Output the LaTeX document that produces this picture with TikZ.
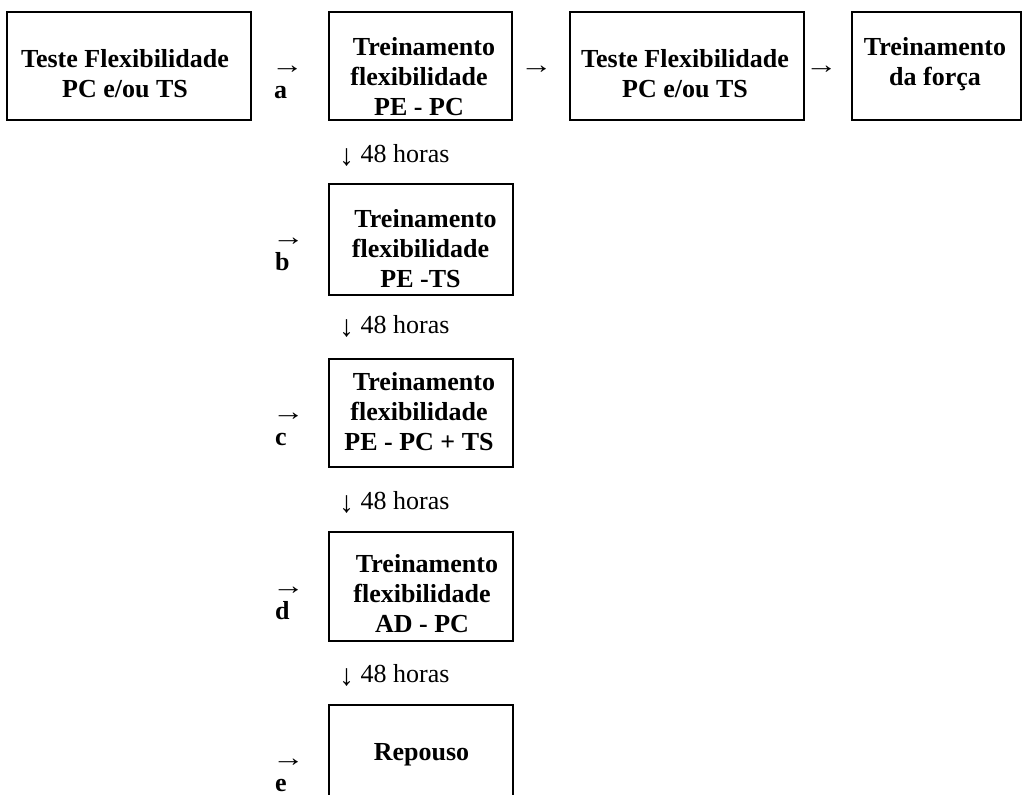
\documentclass[tikz,border=0pt]{standalone}
\usepackage{fontspec}
\setmainfont{Liberation Serif}
\newcommand{\ctrlines}[1]{\vtop{\baselineskip=30pt\lineskiplimit=-100pt\halign{\hfil##\hfil\cr#1\crcr}}}
\newcommand{\lftlines}[1]{\vtop{\baselineskip=25pt\lineskiplimit=-100pt\halign{##\hfil\cr#1\crcr}}}
\newcommand{\shiftT}{\hspace*{10pt}}
\newcommand{\dnarrow}{\raisebox{-3pt}{\fontsize{30}{30}\selectfont ↓}}
\newcommand{\rtarrow}{\scalebox{1.25}[1]{→}}
\begin{document}
\begin{tikzpicture}[x=1pt,y=-1pt,
  frame/.style={draw, line width=2.4pt, inner sep=0pt, outer sep=0pt},
  txt/.style={inner sep=0pt, anchor=base, font=\fontsize{26}{30}\selectfont\bfseries},
  sym/.style={inner sep=0pt, anchor=base west, font=\fontsize{26}{30}\selectfont},
]
\useasboundingbox (0,0) rectangle (1029,795);
\clip (0,0) rectangle (1029,795);
% top row boxes
\node[frame, minimum width=244pt, minimum height=108pt] (b1) at (129,66) {};
\node[txt] (t1) at (125,67) {\ctrlines{Teste Flexibilidade\cr PC e/ou TS}};
\node[frame, minimum width=183pt, minimum height=108pt] (b2) at (420.5,66) {};
\node[txt] (t2) at (419,55) {\ctrlines{\shiftT Treinamento\cr flexibilidade\cr PE - PC}};
\node[frame, minimum width=234pt, minimum height=108pt] (b3) at (687,66) {};
\node[txt] (t3) at (685,67) {\ctrlines{Teste Flexibilidade\cr PC e/ou TS}};
\node[frame, minimum width=169pt, minimum height=108pt] (b4) at (936.5,66) {};
\node[txt] (t4) at (935,55) {\ctrlines{Treinamento\cr da força}};
% arrows between top boxes
\node[sym] (r23) at (520,73) {\rtarrow};
\node[sym] (r34) at (805,73) {\rtarrow};
% column boxes
\node[frame, minimum width=184pt, minimum height=111pt] (bb) at (421,239.5) {};
\node[txt] (tb) at (420.5,227) {\ctrlines{\shiftT Treinamento\cr flexibilidade\cr PE -TS}};
\node[frame, minimum width=184pt, minimum height=108pt] (bc) at (421,413) {};
\node[txt] (tc) at (419,390) {\ctrlines{\shiftT Treinamento\cr flexibilidade\cr PE - PC + TS}};
\node[frame, minimum width=184pt, minimum height=109pt] (bd) at (421,586.5) {};
\node[txt] (td) at (422,572) {\ctrlines{\shiftT Treinamento\cr flexibilidade\cr AD - PC}};
\node[frame, minimum width=184pt, minimum height=110pt] (be) at (421,760) {};
\node[txt] (te) at (421.5,760) {Repouso};
% arrow + letter labels
\node[sym] (la) at (271,73.5) {\lftlines{\rtarrow\cr\hspace*{3pt}\textbf{a}}};
\node[sym] (lb) at (272,245) {\lftlines{\rtarrow\cr\hspace*{3pt}\textbf{b}}};
\node[sym] (lc) at (272,420) {\lftlines{\rtarrow\cr\hspace*{3pt}\textbf{c}}};
\node[sym] (ld) at (272,594) {\lftlines{\rtarrow\cr\hspace*{3pt}\textbf{d}}};
\node[sym] (le) at (272,766) {\lftlines{\rtarrow\cr\hspace*{3pt}\textbf{e}}};
% 48 horas
\node[sym] (h1) at (339,162) {\dnarrow\ 48 horas};
\node[sym] (h2) at (339,333) {\dnarrow\ 48 horas};
\node[sym] (h3) at (339,509) {\dnarrow\ 48 horas};
\node[sym] (h4) at (339,682) {\dnarrow\ 48 horas};
\end{tikzpicture}
\end{document}
